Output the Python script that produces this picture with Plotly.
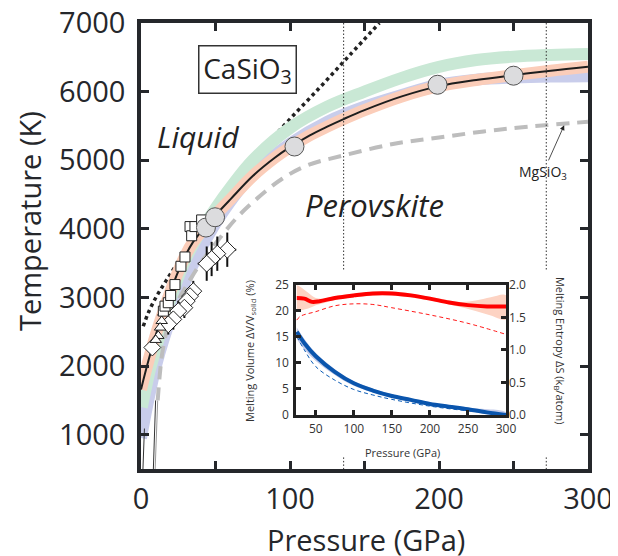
import plotly.graph_objects as go

# ---------------- main panel data ----------------
melt_P = [0, 5, 10, 15, 20, 25, 30, 35, 40, 45, 50, 60, 75, 90, 100, 113, 125, 136, 150, 175, 200, 225, 250, 275, 300]
melt_T = [1660, 2080, 2460, 2790, 3100, 3380, 3620, 3810, 3950, 4080, 4200, 4430, 4770, 5040, 5190, 5360, 5490, 5600, 5730, 5930, 6080, 6170, 6240, 6305, 6362]

green_P = [0.5, 3, 6, 10, 15, 20, 30, 40, 50, 60, 75, 100, 125, 150, 175, 200, 225, 250, 275, 300]
green_T = [1400, 1650, 1950, 2250, 2640, 2990, 3560, 3960, 4300, 4600, 5000, 5470, 5780, 6000, 6200, 6360, 6460, 6510, 6535, 6550]

lav_P = [0, 3, 6, 10, 15, 20, 30, 40, 50, 60, 75, 100, 125, 150, 175, 200, 225, 250, 275, 300]
lav_T = [950, 1300, 1620, 2000, 2380, 2700, 3250, 3700, 4080, 4400, 4800, 5240, 5560, 5780, 5950, 6100, 6175, 6205, 6220, 6225]

dotted_P = [1.5, 5, 10, 15, 20, 30, 45, 60, 80, 98, 120, 140, 160]
dotted_T = [2580, 2780, 3000, 3180, 3350, 3680, 4150, 4600, 5120, 5555, 6060, 6530, 7000]

mgsio3_P = [11.2, 12.5, 14, 16, 20, 25, 30, 40, 52, 64, 78, 95, 112, 136, 170, 200, 230, 260, 300]
mgsio3_T = [1500, 1850, 2150, 2400, 2720, 2960, 3150, 3500, 3841, 4155, 4444, 4734, 4928, 5070, 5240, 5330, 5420, 5490, 5560]

thinA_P = [1.3, 2.3]
thinA_T = [500, 1090]
thinB_P = [8.3, 9.8]
thinB_T = [500, 1500]
thinC_P = [9.5, 11.2]
thinC_T = [500, 1500]

sq_P = [15.0, 16.1, 18.3, 19.9, 22.8, 26.8, 29.5, 32.9, 34.0, 36.2, 40.7]
sq_T = [2801, 2874, 2923, 3029, 3188, 3454, 3590, 4033, 3899, 4033, 4130]

tri_P = [15.0, 13.9, 12.8, 11.6, 9.9]
tri_T = [2778, 2657, 2561, 2439, 2381]

dia_P = [7.6]
dia_T = [2271]

dia2_P = [35.1, 32.9, 30.7, 29.1, 25.0, 21.7, 18.3]
dia2_T = [3092, 3019, 2947, 2851, 2801, 2681, 2609]
dia2_eP = [2.5, 2.5, 2.5, 2.5, 2.5, 2.5, 2.5]
dia2_eT = [150, 150, 150, 150, 150, 150, 150]

dia1_P = [57.9, 51.2, 47.4, 44.1]
dia1_T = [3696, 3638, 3561, 3493]
dia1_eP = [6, 6, 6, 6]
dia1_eT = [250, 250, 250, 250]

circ_P = [43.6, 49.7, 103, 199, 250]
circ_T = [4019, 4169, 5200, 6100, 6232]

vline_P = [136, 272]

x_ticks = [0, 50, 100, 150, 200, 250, 300]
x_ticktext = ["0", "", "100", "", "200", "", "300"]
y_ticks = [1000, 2000, 3000, 4000, 5000, 6000, 7000]

# ---------------- inset data ----------------
in_P = [25, 35, 45, 55, 75, 100, 125, 150, 175, 200, 225, 250, 275, 300]
entropy = [1.80, 1.79, 1.74, 1.75, 1.80, 1.84, 1.87, 1.87, 1.84, 1.79, 1.73, 1.69, 1.67, 1.67]

band_P = [25, 30, 40, 50, 60, 75, 100, 150, 200, 240, 260, 280, 300]
entropy_up = [2.00, 1.97, 1.88, 1.80, 1.79, 1.83, 1.87, 1.90, 1.82, 1.74, 1.76, 1.81, 1.84]
entropy_lo = [1.59, 1.61, 1.64, 1.69, 1.72, 1.77, 1.81, 1.84, 1.76, 1.66, 1.60, 1.53, 1.47]

ent_dash_P = [25, 30, 50, 75, 100, 125, 150, 200, 250, 300]
ent_dash = [1.46, 1.52, 1.59, 1.68, 1.71, 1.70, 1.65, 1.54, 1.41, 1.24]

vol_P = [25, 35, 50, 75, 100, 125, 150, 175, 200, 225, 250, 275, 300]
volume = [16.0, 13.8, 11.3, 8.3, 6.1, 4.7, 3.65, 2.9, 2.1, 1.6, 1.1, 0.5, 0.0]

vband_P = [25, 35, 50, 75, 100, 150, 200, 250, 300]
volume_up = [16.8, 14.6, 11.9, 8.8, 6.5, 4.0, 2.45, 1.4, 0.5]
volume_lo = [14.6, 12.6, 10.4, 7.7, 5.6, 3.3, 1.85, 0.8, -0.3]

vol_dash_P = [25, 35, 50, 75, 100, 125, 150, 200, 250, 300]
vol_dash = [15.1, 12.5, 9.3, 6.7, 4.9, 3.85, 3.0, 1.7, 0.8, 0.2]

in_xticks = [50, 100, 150, 200, 250, 300]
in_yticks = [0, 5, 10, 15, 20, 25]
in_y2ticks = [0.0, 0.5, 1.0, 1.5, 2.0]

# ---------------- styling ----------------
FONT = "Open Sans"
AX = "#25272b"
GREEN = "#c9e8d5"
SALMON = "#fbcdb9"
LAV = "#c9cdeb"
GRAYD = "#bdbdbd"

fig = go.Figure()

fig.add_trace(go.Scatter(x=dotted_P, y=dotted_T, mode="lines", line=dict(color="#222", width=3.5, dash="3.5px,3.5px", shape="spline")))
fig.add_trace(go.Scatter(x=lav_P, y=lav_T, mode="lines", line=dict(color=LAV, width=12, shape="spline")))
fig.add_trace(go.Scatter(x=green_P, y=green_T, mode="lines", line=dict(color=GREEN, width=12, shape="spline")))
fig.add_trace(go.Scatter(x=melt_P, y=melt_T, mode="lines", line=dict(color=SALMON, width=12, shape="spline")))
fig.add_trace(go.Scatter(x=melt_P, y=melt_T, mode="lines", line=dict(color="#1e1e1e", width=2, shape="spline")))
fig.add_trace(go.Scatter(x=thinA_P, y=thinA_T, mode="lines", line=dict(color="#333", width=1)))
fig.add_trace(go.Scatter(x=thinB_P, y=thinB_T, mode="lines", line=dict(color="#333", width=1)))
fig.add_trace(go.Scatter(x=thinC_P, y=thinC_T, mode="lines", line=dict(color="#999", width=1)))
fig.add_trace(go.Scatter(x=mgsio3_P, y=mgsio3_T, mode="lines", line=dict(color=GRAYD, width=4, dash="13px,8px", shape="spline")))

for p in vline_P:
    fig.add_trace(go.Scatter(x=[p, p], y=[7000, 3395], mode="lines", line=dict(color="#333", width=1, dash="1.5px,2px")))
    fig.add_trace(go.Scatter(x=[p, p], y=[669, 500], mode="lines", line=dict(color="#333", width=1, dash="1.5px,2px")))

fig.add_trace(go.Scatter(x=dia1_P, y=dia1_T, mode="markers",
                         error_x=dict(type="data", array=dia1_eP, color="#111", thickness=2, width=0),
                         error_y=dict(type="data", array=dia1_eT, color="#111", thickness=2, width=0),
                         marker=dict(symbol="diamond", size=13, color="white", line=dict(color="#222", width=1))))
fig.add_trace(go.Scatter(x=dia2_P, y=dia2_T, mode="markers",
                         error_x=dict(type="data", array=dia2_eP, color="#111", thickness=2, width=0),
                         error_y=dict(type="data", array=dia2_eT, color="#111", thickness=2, width=0),
                         marker=dict(symbol="diamond", size=13, color="white", line=dict(color="#222", width=1))))
fig.add_trace(go.Scatter(x=dia_P, y=dia_T, mode="markers",
                         marker=dict(symbol="diamond", size=13, color="white", line=dict(color="#222", width=1))))
fig.add_trace(go.Scatter(x=tri_P, y=tri_T, mode="markers",
                         marker=dict(symbol="triangle-up", size=10, color="white", line=dict(color="#222", width=1))))
fig.add_trace(go.Scatter(x=sq_P, y=sq_T, mode="markers",
                         marker=dict(symbol="square", size=10, color="white", line=dict(color="#222", width=1))))
fig.add_trace(go.Scatter(x=circ_P, y=circ_T, mode="markers",
                         marker=dict(symbol="circle", size=19, color="#dcdcde", line=dict(color="#555", width=1))))

fig.add_trace(go.Scatter(x=band_P + band_P[::-1], y=entropy_up + entropy_lo[::-1], mode="lines",
                         fill="toself", fillcolor="#fdd3c3", line=dict(width=0, shape="spline"),
                         xaxis="x2", yaxis="y3"))
fig.add_trace(go.Scatter(x=vband_P + vband_P[::-1], y=volume_up + volume_lo[::-1], mode="lines",
                         fill="toself", fillcolor="#c3cbe9", line=dict(width=0, shape="spline"),
                         xaxis="x2", yaxis="y2"))
fig.add_trace(go.Scatter(x=ent_dash_P, y=ent_dash, mode="lines", line=dict(color="#ff1a1a", width=1, dash="4px,3px", shape="spline"),
                         xaxis="x2", yaxis="y3"))
fig.add_trace(go.Scatter(x=vol_dash_P, y=vol_dash, mode="lines", line=dict(color="#0a5bb5", width=1, dash="4px,3px", shape="spline"),
                         xaxis="x2", yaxis="y2"))
fig.add_trace(go.Scatter(x=in_P, y=entropy, mode="lines", line=dict(color="#ff0000", width=4, shape="spline"),
                         xaxis="x2", yaxis="y3"))
fig.add_trace(go.Scatter(x=vol_P, y=volume, mode="lines", line=dict(color="#0a55ad", width=4, shape="spline"),
                         xaxis="x2", yaxis="y2"))

tickfont_main = dict(family=FONT, size=29, color=AX)
tickfont_in = dict(family=FONT, size=12, color="#333")

# page body has an 8px margin: the figure is drawn 8px smaller and its margins reduced to compensate
fig.update_layout(
    width=610, height=548,
    margin=dict(l=133, r=30, t=15, b=87),
    paper_bgcolor="white", plot_bgcolor="white",
    showlegend=False,
    xaxis=dict(range=[0, 300], domain=[0, 1], tickvals=x_ticks, ticktext=x_ticktext, automargin=False,
               ticklabeloverflow="allow",
               ticks="inside", ticklen=8, tickwidth=3, tickcolor=AX,
               showline=True, linewidth=3.5, linecolor=AX, mirror="ticks",
               showgrid=False, zeroline=False, tickfont=tickfont_main, ticklabelstandoff=1),
    yaxis=dict(range=[500, 7000], domain=[0, 1], tickvals=y_ticks, automargin=False,
               ticklabeloverflow="allow",
               ticks="inside", ticklen=8, tickwidth=3, tickcolor=AX,
               showline=True, linewidth=3.5, linecolor=AX, mirror="ticks",
               showgrid=False, zeroline=False, tickfont=tickfont_main, ticklabelstandoff=6),
    xaxis2=dict(range=[24, 300], domain=[0.3468, 0.8166], anchor="y2", tickvals=in_xticks, automargin=False,
                ticks="inside", ticklen=5, tickwidth=2.5, tickcolor="#222",
                showline=True, linewidth=2.5, linecolor="#222", mirror="ticks",
                showgrid=False, zeroline=False, tickfont=tickfont_in, ticklabelstandoff=1),
    yaxis2=dict(range=[0, 25], domain=[0.1211, 0.4126], anchor="x2", tickvals=in_yticks, automargin=False,
                ticks="inside", ticklen=5, tickwidth=2.5, tickcolor="#222",
                showline=True, linewidth=2.5, linecolor="#222", mirror=True,
                showgrid=False, zeroline=False, tickfont=tickfont_in, ticklabelstandoff=2),
    yaxis3=dict(range=[0, 2], overlaying="y2", anchor="x2", side="right", tickvals=in_y2ticks, automargin=False,
                tickformat=".1f", ticks="inside", ticklen=5, tickwidth=2.5, tickcolor="#222",
                showline=False, showgrid=False, zeroline=False, tickfont=tickfont_in, ticklabelstandoff=2),
)

ann = []
ann.append(dict(text="Pressure (GPa)", x=0.503, y=-0.159, xref="paper", yref="paper", showarrow=False,
                font=dict(family=FONT, size=29, color=AX), xanchor="center", yanchor="middle"))
ann.append(dict(text="Temperature (K)", x=-0.2506, y=0.556, xref="paper", yref="paper", showarrow=False,
                textangle=-90, font=dict(family=FONT, size=29, color=AX), xanchor="center", yanchor="middle"))
ann.append(dict(text="CaSiO<sub>3</sub>", x=71.5, y=6325, xref="x", yref="y", showarrow=False,
                font=dict(family=FONT, size=28, color="#222"), bgcolor="white", bordercolor="#333",
                borderwidth=1.5, borderpad=3, width=90, height=40))
ann.append(dict(text="<i>Liquid</i>", x=38.3, y=5348, xref="x", yref="y", showarrow=False,
                font=dict(family=FONT, size=30, color="#222")))
ann.append(dict(text="<i>Perovskite</i>", x=157, y=4343, xref="x", yref="y", showarrow=False,
                font=dict(family=FONT, size=31, color="#222")))
ann.append(dict(text="MgSiO<sub>3</sub>", x=284, y=5508, xref="x", yref="y", ax=-21, ay=47,
                showarrow=True, arrowhead=2, arrowsize=1.2, arrowwidth=0.8, arrowcolor="#222",
                font=dict(family=FONT, size=14, color="#222")))
ann.append(dict(text="Pressure (GPa)", x=0.5839, y=0.0381, xref="paper", yref="paper", showarrow=False,
                font=dict(family=FONT, size=11, color="#333"), xanchor="center", yanchor="middle"))
ann.append(dict(text="Melting Volume ΔV/V<sub>solid</sub> (%)", x=0.2438, y=0.2646, xref="paper", yref="paper",
                showarrow=False, textangle=-90, font=dict(family=FONT, size=11, color="#333"),
                xanchor="center", yanchor="middle"))
ann.append(dict(text="Melting Entropy ΔS (k<sub>B</sub>/atom)", x=0.9374, y=0.2646, xref="paper", yref="paper",
                showarrow=False, textangle=90, font=dict(family=FONT, size=11, color="#333"),
                xanchor="center", yanchor="middle"))
fig.update_layout(annotations=ann)

fig.write_html("out.html")
